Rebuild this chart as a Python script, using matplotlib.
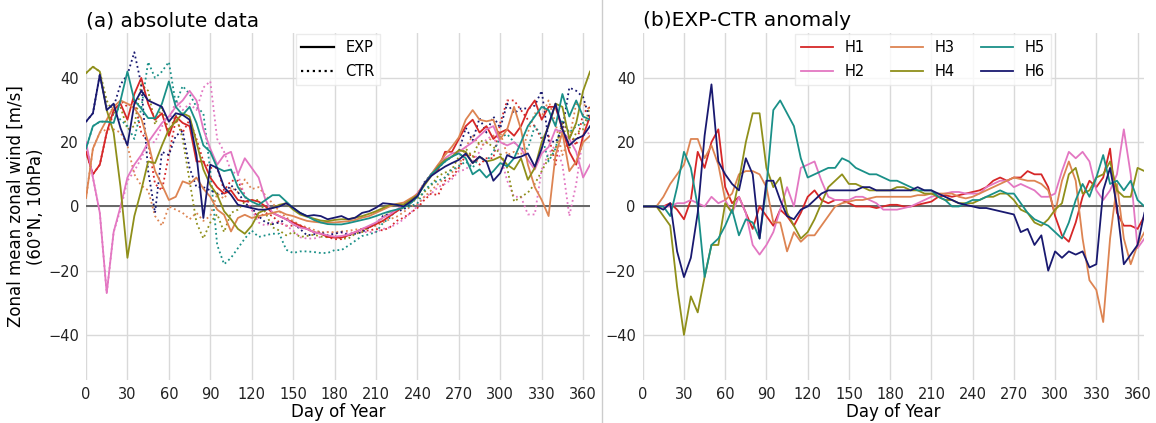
import numpy as np
import matplotlib
matplotlib.use("Agg")
import matplotlib.pyplot as plt
from matplotlib.lines import Line2D

# ---- data (5-day steps) ----
days = list(range(0, 366, 5))
labels = ["H1", "H2", "H3", "H4", "H5", "H6"]
colors = ["#d62728", "#e377c2", "#dd8452", "#8f8f1a", "#1a9088", "#191970"]

# EXP runs (solid)
h1_exp = [17, 10, 13, 23, 30, 32, 27, 35, 40, 32, 27, 29, 22, 28, 26, 25, 14, 14, 9, 6,
          4, 5, 2, 1.5, 2, 1.5, 0, -2, -3, -4, -5, -6, -7, -8, -8.5, -9.5, -9.7, -9.7, -9, -8,
          -7, -6.5, -5.5, -4.5, -3, -1.5, 0, 2, 4, 7, 10, 11.5, 17, 17, 21, 25, 27, 23, 25, 21,
          23, 24, 22, 25, 30, 33, 27, 31, 31, 24, 17, 13, 22, 28]
h2_exp = [20, 9, -2, -27, -8, 0, 9, 13, 16, 20, 23, 26, 28, 31, 33, 36, 33, 24, 18, 13,
          16, 17, 10, 15, 12, 9, 2, -2, -3, -4, -5.5, -6.6, -7, -8, -8.5, -9, -9.4, -9.2, -8.8, -8,
          -7, -6, -5, -3.5, -2.5, -1, 0.5, 2, 4, 7, 10, 13, 15, 16.5, 17, 18.5, 20, 22, 24, 25,
          20, 19, 20, 18, 14.5, 11.5, 16.5, 18.5, 24, 23, 21, 17, 9, 13]
h3_exp = [2.6, 18, 23, 27, 31, 33, 32, 30.6, 27.5, 20, 11, 6.7, 2, 3, 7.8, 7, 9, 5.5, 3, -1,
          -2.6, -7.8, -3.6, -2.6, -3.6, -3, -2.6, -2, -1.5, -2.5, -3, -3.8, -4.5, -4.8, -5, -5, -5, -4.8, -4.6, -4.2,
          -3.5, -3, -2, -1, 0, 0.8, 1.2, 2.5, 3.7, 7, 10, 13, 16, 18.6, 21.5, 27, 30, 27, 26.5, 27,
          21, 24, 31, 24, 13, 6, 2, -3, 16, 23, 11, 14, 20, 22]
h4_exp = [41.5, 43.5, 42, 30, 23, 6, -16, -3, 5, 14, 13.5, 19, 24, 26.5, 29, 28, 20, 11.5, 6.7, 3.6,
          -1.5, -4, -7, -8.5, -6, -2, -1, -0.5, 0.5, 1, -1, -2.5, -3.2, -3.8, -4.4, -4.6, -4.2, -4, -4, -3.5,
          -3, -2.3, -1.5, -0.5, 0.5, 0.6, 0.6, 2, 3.5, 6.5, 9.5, 12.5, 14.5, 15.5, 17.5, 17, 13.5, 15.5, 14, 14.5,
          15.5, 13, 11.5, 15, 8.3, 12, 20, 25, 32, 31, 21, 26, 36, 42]
h5_exp = [18, 25, 26.4, 26.4, 26, 33, 42, 33, 30.5, 27.5, 27.5, 32, 38.9, 31, 28.5, 31, 26, 19, 17, 12,
          11, 11.5, 6, 3, 1.5, 0.5, 2, 3.5, 3.5, 1.5, -0.5, -2, -3, -4.2, -5, -5.5, -5.6, -5.6, -5.2, -4.7,
          -4.2, -3.7, -3, -2.2, -1.5, -1, -0.3, 1, 3, 7, 10, 12, 14, 15.5, 16.5, 15, 10, 11.5, 9, 11,
          13.5, 12.5, 15, 20, 25, 28, 31, 30, 25, 35, 28, 33, 28, 27]
h6_exp = [26.4, 29, 41, 30, 32, 24.4, 19, 32, 36, 33, 32, 31, 26.4, 29, 28.5, 27, 16, -3.6, 13, 12,
          6, 3.6, 0.5, 0, -0.5, -1, -1, -0.5, 0, 1, -0.4, -2, -3, -2.7, -3, -4, -3.5, -3, -4, -3.5,
          -2, -1.5, -0.4, 1, 0.8, 0.5, 0, 1.5, 3.2, 7, 9.5, 11, 12.4, 13.5, 14.5, 16.5, 13.5, 15.5, 14, 8,
          10.4, 16, 15, 15.5, 16.5, 12.4, 18, 25.5, 32, 24, 19, 21, 22, 25]

# CTR runs (dotted)
h1_ctr = [17, 10, 13, 23, 29, 33, 31, 33, 23, 20, 7, 5, 16, 27, 23, 27, 21, 14, 12, 12,
          5, 8, 8, 3.5, -1, -3.5, -2, -3, -5, -6, -6, -6, -7, -8, -8, -9.5, -10.2, -10.2, -9, -8,
          -7.5, -7.5, -7, -7.5, -6.5, -4.5, -3.5, -2, -0.5, 2, 4, 3.5, 8, 9, 12, 16, 16, 13, 15, 15,
          26, 33, 33, 30, 27, 25, 21, 22, 13, 26, 23, 19, 29, 31]
h2_ctr = [20, 9, -2, -27, -8, -1, 8, 11, 15, 20, 20, 25, 26, 33, 30, 32, 30, 37, 39, 21,
          17, 11, 10, 3, -1, -5, -6, -5, -5, -6, -7.5, -9.6, -10, -10, -9.5, -8, -8.4, -8.2, -8.3, -8,
          -8, -8, -8, -7, -6.5, -5.5, -4, -2, 0, 3, 4, 6, 7, 8.5, 11, 11.5, 14, 17, 21, 22,
          16, 8, 3, 3, -2.5, -2.5, 11.5, 16.5, 19, 13, -3, 7, 22, 23]
h3_ctr = [2.6, 18, 23, 24, 24, 23, 19, 10, 6.5, 5, -3, -6, 0, -1, -2, -4, -2, -4.5, -3, 4,
          2.4, 6, 4.4, 8.4, 5.4, 6, 3.4, 1, -1.5, -3.5, -4.5, -5.8, -6.5, -7.3, -8, -8, -8, -7.8, -7.6, -7.2,
          -7, -6.5, -6, -5, -4, -3.2, -1.8, 0, 0.7, 3, 5, 7, 9, 10.6, 12.5, 18.5, 22, 19, 19.5, 22,
          23, 16, 17, 16, 23, 29, 28, 33, 26, 16, 21, 32, 32, 30]
h4_ctr = [41.5, 43.5, 42, 33, 29, 31, 24, 25, 38, 36, 25.5, 31, 23, 28.5, 21, 8, -5, -10, -5, -2.4,
          -8, -2, -1, 1.5, 2, 2, -2, -6.5, -7.5, -9, -8, -9.5, -9.2, -8.8, -9.4, -9.6, -9.2, -10, -10, -8.5,
          -8, -6.3, -5.5, -3.5, -1.5, -1.4, -0.4, 1, 2.5, 4.5, 6.5, 9.5, 10.5, 11.5, 15.5, 18, 15.5, 20.5, 20, 18.5,
          16.5, 12, 1.5, 3, 4.3, 7, 11, 15, 18, 26, 18, 23, 24, 31]
h5_ctr = [18, 25, 26.4, 26.4, 29, 27, 25, 21, 30.5, 45, 40, 42, 45, 32, 37.5, 35, 31, 29, 11, -12,
          -18, -16, -13, -10, -7.5, -9.5, -9, -8.5, -8.5, -13.5, -14.5, -14, -14, -14.2, -14.5, -14.5, -13.6, -13.6, -12.2, -10.7,
          -9.2, -8.7, -8, -5.2, -3.5, -1, -0.3, 0, 1, 5, 7, 8, 9, 11.5, 12.5, 14, 12, 15.5, 14, 17,
          21.5, 22.5, 20, 18, 18, 25, 22, 14, 18, 27, 23, 25, 26, 27]
h6_ctr = [26.4, 29, 41, 31, 31, 38, 41, 48, 38, 11, -2, 17, 16, 22, 23.5, 12, 6, 6, 5, 4,
          4, 6.6, 4.5, 1, -0.5, -3, -5, -5.5, -5, -4, -5.4, -7, -9, -8.7, -8, -9, -8.5, -8, -9, -8.5,
          -8, -6.5, -5.4, -3, -2.2, -1.5, -1, 1, 3.2, 7.5, 10, 12, 14, 15.5, 17, 24.5, 20.5, 27.5, 23, 28,
          24.4, 32, 29, 30.5, 30.5, 31.4, 36, 20.5, 20, 24, 37, 36, 34, 27]

# EXP-CTR anomaly
h1_anom = [0, 0, 0, 0, 1, -1, -4, 2, 17, 12, 20, 24, 6, 1, 3, -2, -7, 0, -3, -6,
           -1, -3, -6, -2, 3, 5, 2, 1, 2, 2, 1, 0, 0, 0, -0.5, 0, 0.5, 0.5, 0, 0,
           0.5, 1, 1.5, 3, 3.5, 3, 3.5, 4, 4.5, 5, 6, 8, 9, 8, 9, 9, 11, 10, 10, 6,
           -3, -9, -11, -5, 3, 8, 6, 9, 18, -2, -6, -6, -7, -3]
h2_anom = [0, 0, 0, 0, 0, 1, 1, 2, 1, 0, 3, 1, 2, -2, 3, -2, -12, -15, -12, -8,
           -1, 6, 0, 12, 13, 14, 8, 3, 2, 2, 2, 3, 3, 2, 1, -1, -1, -1, -0.5, 0,
           1, 2, 3, 3.5, 4, 4.5, 4.5, 4, 4, 4, 6, 7, 8, 8, 6, 7, 6, 5, 3, 3,
           4, 11, 17, 15, 17, 14, 5, 2, 5, 10, 24, 10, -13, -10]
h3_anom = [0, 0, 0, 3, 7, 10, 13, 21, 21, 15, 19, 13, 2, 4, 10, 11, 11, 10, 6, -5,
           -5, -14, -8, -11, -9, -9, -6, -3, 0, 1, 1.5, 2, 2, 2.5, 3, 3, 3, 3, 3, 3,
           3.5, 3.5, 4, 4, 4, 4, 3, 2.5, 3, 4, 5, 6, 7, 8, 9, 8.5, 8, 8, 7, 5,
           -2, 8, 14, 8, -10, -23, -26, -36, -10, 7, -10, -18, -12, -8]
h4_anom = [0, 0, 0, -3, -6, -25, -40, -28, -33, -22, -12, -12, 1, -2, 8, 20, 29, 29, 12, 6,
           9, -2, -6, -10, -8, -4, 1, 6, 8, 10, 7, 7, 6, 5, 5, 5, 5, 6, 6, 5,
           5, 4, 4, 3, 2, 2, 1, 1, 1, 2, 3, 3, 4, 4, 2, -1, -2, -5, -6, -4,
           -1, 1, 10, 12, 4, 5, 9, 10, 14, 5, 3, 3, 12, 11]
h5_anom = [0, 0, 0, 0, -3, 6, 17, 12, 0, -22, -12, -10, -6, -1, -9, -4, -5, -10, 6, 30,
           33, 29, 25, 15, 9, 10, 11, 12, 12, 15, 14, 12, 11, 10, 10, 9, 8, 8, 7, 6,
           5, 5, 5, 3, 2, 0, 0, 1, 2, 2, 3, 4, 5, 4, 4, 1, -2, -4, -5, -6,
           -8, -10, -5, 2, 7, 3, 9, 16, 7, 8, 5, 8, 2, 0]
h6_anom = [0, 0, 0, -1, 1, -14, -22, -16, -2, 22, 38, 14, 10, 7, 5, 15, 10, -10, 8, 8,
           2, -3, -4, -1, 0, 2, 4, 5, 5, 5, 5, 5, 6, 6, 5, 5, 5, 5, 5, 5,
           6, 5, 5, 4, 3, 2, 1, 0.5, 0, -0.5, -0.5, -1, -1.5, -2, -2.5, -8, -7, -12, -9, -20,
           -14, -16, -14, -15, -14, -19, -18, 5, 12, 0, -18, -15, -12, -2]

exp_runs = [h1_exp, h2_exp, h3_exp, h4_exp, h5_exp, h6_exp]
ctr_runs = [h1_ctr, h2_ctr, h3_ctr, h4_ctr, h5_ctr, h6_ctr]
anom_runs = [h1_anom, h2_anom, h3_anom, h4_anom, h5_anom, h6_anom]

# ---- figure ----
plt.rcParams['font.family'] = ['DejaVu Sans']
fig = plt.figure(figsize=(11.56, 4.23), dpi=100)
ax1 = fig.add_axes([0.0744, 0.102, 0.436, 0.820])
ax2 = fig.add_axes([0.556, 0.102, 0.434, 0.820])

for ax in (ax1, ax2):
    ax.set_xlim(0, 365)
    ax.set_ylim(-54, 54)
    ax.set_xticks(range(0, 361, 30))
    ax.set_yticks([-40, -20, 0, 20, 40])
    ax.grid(True, color='#d9d9d9', lw=1.0)
    ax.set_axisbelow(True)
    for s in ax.spines.values():
        s.set_visible(False)
    ax.tick_params(length=0, labelsize=10.5, pad=5, colors='#222222')
    ax.axhline(0, color='#666666', lw=1.4, zorder=1)
    ax.set_xlabel('Day of Year', fontsize=12, labelpad=1)

# panel (a): absolute data
for col, ctr in zip(colors, ctr_runs):
    ax1.plot(days, ctr, ls=':', color=col, lw=1.3, zorder=2)
for col, exp in zip(colors, exp_runs):
    ax1.plot(days, exp, ls='-', color=col, lw=1.3, zorder=3)

ax1.set_title('(a) absolute data', loc='left', fontsize=14.5, pad=5)
ax1.set_ylabel('Zonal mean zonal wind [m/s]\n(60°N, 10hPa)', fontsize=12, labelpad=2)
handles = [Line2D([], [], color='black', lw=1.6, ls='-'),
           Line2D([], [], color='black', lw=1.6, ls=':')]
leg1 = ax1.legend(handles, ['EXP', 'CTR'], loc='upper center', fontsize=10.5,
                  frameon=True, fancybox=False, borderaxespad=0.1, handlelength=2.2,
                  labelspacing=0.6)
leg1.get_frame().set_edgecolor('#e6e6e6')

# panel (b): EXP-CTR anomaly
for lab, col, an in zip(labels, colors, anom_runs):
    ax2.plot(days, an, color=col, lw=1.3, label=lab, zorder=3)

ax2.set_title('(b)EXP-CTR anomaly', loc='left', fontsize=14.5, pad=5)
leg2 = ax2.legend(loc='upper left', bbox_to_anchor=(0.30, 1.0), ncol=3, fontsize=10.5,
                  frameon=True, fancybox=False, borderaxespad=0.1, handlelength=2.2,
                  columnspacing=1.8, labelspacing=0.6)
leg2.get_frame().set_edgecolor('#e6e6e6')

# separator between panels
fig.add_artist(Line2D([0.521, 0.521], [0.0, 1.0], transform=fig.transFigure,
                      color='#cccccc', lw=1.0))

fig.savefig('out.png', dpi=100)
